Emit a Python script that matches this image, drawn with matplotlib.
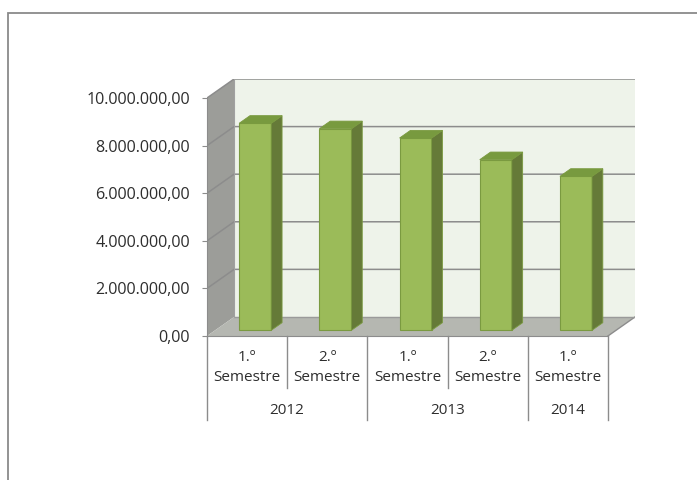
import matplotlib.pyplot as plt
from matplotlib.patches import Polygon, Rectangle
from matplotlib.ticker import FuncFormatter

# --- data ---
ordinals = ['1.º', '2.º', '1.º', '2.º', '1.º']
semester_word = 'Semestre'
years = ['2012', '2013', '2014']
year_spans = [2, 2, 1]  # number of semesters in each year
values = [8700000, 8470000, 8080000, 7170000, 6470000]
yticks = [0, 2000000, 4000000, 6000000, 8000000, 10000000]

# --- fake 3D projection parameters (in data units) ---
DX = 0.3375        # horizontal shift of full depth, in categories
DY = 800000        # vertical shift of full depth, in value units
BAR_T0 = 0.3       # depth where bar front sits
BAR_T = 0.4        # bar depth fraction
BAR_W = 0.4

FRONT = '#9BBB59'
SIDE = '#657A38'
TOP = '#789A3F'
EDGE = '#7A9A40'
GRID = '#8C8C8C'
TXT = '#2E2E2E'
FS = 11


def fmt(v, pos=None):
    s = f"{v:,.2f}"
    return s.replace(',', 'X').replace('.', ',').replace('X', '.')


plt.rcParams['font.family'] = ['Open Sans', 'DejaVu Sans']

fig = plt.figure(figsize=(6.97, 4.80), dpi=100)
ax = fig.add_axes([207 / 697, 1 - 336 / 480, 428 / 697, 257 / 480])
n = len(values)
ymax = yticks[-1]
ax.set_xlim(0, n + DX)
ax.set_ylim(0, ymax + DY)

# outer chart border
fig.patches.append(Rectangle((7.5 / 697, -0.1), 1.2, 1 - 12.5 / 480 + 0.1,
                             transform=fig.transFigure, fill=False,
                             edgecolor='#8A8A8A', linewidth=1.3))

# back wall
ax.add_patch(Rectangle((DX, DY), n, ymax, facecolor='#EEF3EA', edgecolor='none', zorder=1))
# side wall
ax.add_patch(Polygon([(0, 0), (DX, DY), (DX, DY + ymax), (0, ymax)],
                     facecolor='#9C9D99', edgecolor='none', zorder=1))
# floor
ax.add_patch(Polygon([(0, 0), (n, 0), (n + DX, DY), (DX, DY)],
                     facecolor='#B5B7B1', edgecolor='none', zorder=1))
ax.plot([n, n + DX], [0, DY], color='#8C8C8C', lw=1, zorder=2)

# grid lines on side and back walls
for v in yticks:
    if v == 0:
        ax.plot([DX, n + DX], [DY, DY], color='#9A9A9A', lw=1, zorder=2)
        continue
    ax.plot([0, DX, n + DX], [v, v + DY, v + DY], color=GRID, lw=1.1, zorder=2)
ax.plot([DX, DX], [DY, DY + ymax], color='#A0A0A0', lw=0.8, zorder=2)

# bars
b = BAR_T0 * DY
ddx = BAR_T * DX
ddy = BAR_T * DY
for i, v in enumerate(values):
    xl = i + 0.5 + BAR_T0 * DX - BAR_W / 2
    xr = xl + BAR_W
    ax.bar(xl, v, width=BAR_W, bottom=b, align='edge', color=FRONT,
           edgecolor=EDGE, linewidth=0.8, zorder=5)
    ax.add_patch(Polygon([(xr, b), (xr + ddx, b + ddy), (xr + ddx, b + v + ddy), (xr, b + v)],
                         facecolor=SIDE, edgecolor=EDGE, linewidth=0.6, zorder=5))
    ax.add_patch(Polygon([(xl, b + v), (xr, b + v), (xr + ddx, b + v + ddy), (xl + ddx, b + v + ddy)],
                         facecolor=TOP, edgecolor=EDGE, linewidth=0.6, zorder=5))

# axes styling
for s in ['top', 'right']:
    ax.spines[s].set_visible(False)
ax.spines['left'].set_bounds(0, ymax)
ax.spines['left'].set_color('#8C8C8C')
ax.spines['bottom'].set_bounds(0, n)
ax.spines['bottom'].set_color('#8C8C8C')
ax.set_yticks(yticks)
ax.yaxis.set_major_formatter(FuncFormatter(fmt))
ax.tick_params(axis='y', length=3.6, color='#8C8C8C', labelsize=11.6,
               labelcolor=TXT, pad=8.5)
ax.set_xticks([])

# category labels (two levels)
xt = ax.get_xaxis_transform()
for i, lab in enumerate(ordinals):
    ax.text(i + 0.5, -0.082, lab, transform=xt, ha='center', va='center',
            fontsize=FS, color=TXT)
    ax.text(i + 0.5, -0.163, semester_word, transform=xt, ha='center', va='center',
            fontsize=FS, color=TXT)
start = 0
for yr, span in zip(years, year_spans):
    ax.text(start + span / 2, -0.288, yr, transform=xt, ha='center', va='center',
            fontsize=FS, color=TXT)
    ax.plot([start, start], [0, -0.327], transform=xt, color='#8C8C8C', lw=1, clip_on=False)
    for k in range(1, span):
        ax.plot([start + k, start + k], [0, -0.202], transform=xt, color='#8C8C8C',
                lw=1, clip_on=False)
    start += span
ax.plot([start, start], [0, -0.327], transform=xt, color='#8C8C8C', lw=1, clip_on=False)

fig.savefig('out.png', dpi=100)
